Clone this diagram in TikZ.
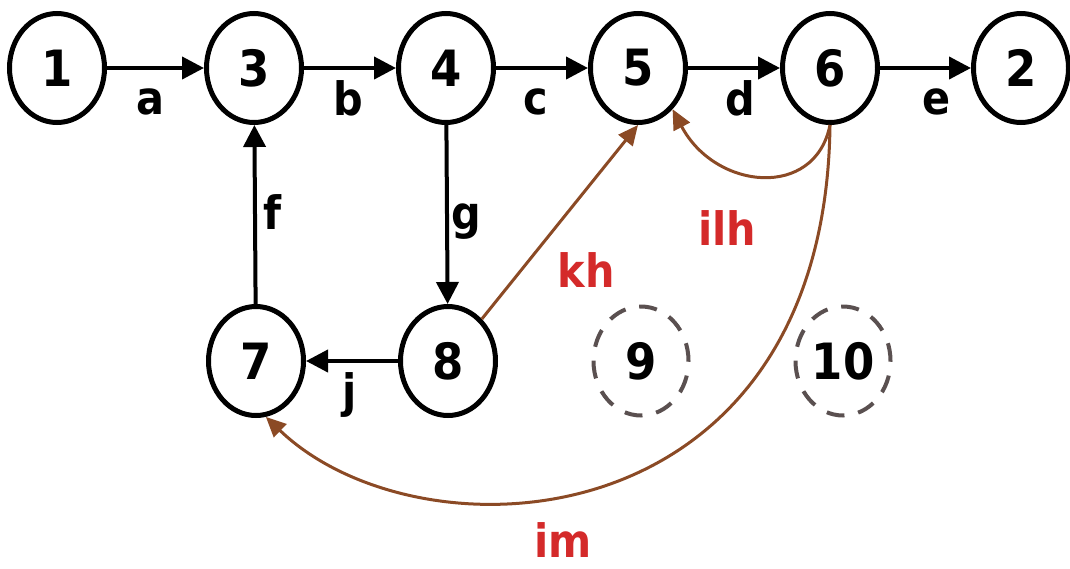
\documentclass[tikz,border=0pt]{standalone}
\usepackage{fontspec}
\newfontfamily\lbl{DejaVu Sans Condensed Bold}
\usetikzlibrary{arrows.meta,shapes.geometric}
\definecolor{brn}{HTML}{8B4A25}
\definecolor{lblred}{HTML}{D42A2A}
\definecolor{dashgray}{HTML}{5A5050}
\tikzset{
  vert/.style={ellipse, draw=black, line width=5pt, minimum width=95pt, minimum height=109pt, inner sep=0pt, font=\lbl\fontsize{50}{50}\selectfont},
  ghost/.style={ellipse, draw=dashgray, line width=4pt, dash pattern=on 18pt off 14pt, minimum width=95pt, minimum height=109pt, inner sep=0pt, font=\lbl\fontsize{50}{50}\selectfont},
  blk/.style={draw=black, line width=4pt, -{Triangle[length=22pt,width=22pt]}},
  brw/.style={draw=brn, line width=3pt, -{Triangle[length=20pt,width=18pt]}},
  elab/.style={font=\lbl\fontsize{46}{46}\selectfont, inner sep=0pt},
  rlab/.style={font=\lbl\fontsize{46}{46}\selectfont, inner sep=0pt, text=lblred},
}
\begin{document}
\begin{tikzpicture}[x=1pt,y=-1pt]
\useasboundingbox (0,0) rectangle (1070,568);
% vertices
\node[vert] (n1) at (57,68) {1};
\node[vert] (n3) at (254,68) {3};
\node[vert] (n4) at (446,68) {4};
\node[vert] (n5) at (638,68) {5};
\node[vert] (n6) at (830,68) {6};
\node[vert] (n2) at (1021,68) {2};
\node[vert] (n7) at (256,361) {7};
\node[vert] (n8) at (448,361) {8};
\node[ghost] (n9) at (641,361) {9};
\node[ghost] (n10) at (843,361) {10};
% black edges
\draw[blk] (n1) -- (n3);
\draw[blk] (n3) -- (n4);
\draw[blk] (n4) -- (n5);
\draw[blk] (n5) -- (n6);
\draw[blk] (n6) -- (n2);
\draw[blk] (n7) -- (n3);
\draw[blk] (n4) -- (n8);
\draw[blk] (n8) -- (n7);
% brown edges
\draw[brw] (n8) -- (n5.south);
\coordinate (c1) at (815,200);
\coordinate (c2) at (715,190);
\draw[brw] (n6.south) .. controls (c1) and (c2) .. (n5.-50);
\coordinate (c3) at (825,545);
\coordinate (c4) at (420,565);
\draw[brw] (n6.south) .. controls (c3) and (c4) .. (n7.-80);
% labels
\node[elab] (la) at (150,102) {a};
\node[elab] (lb) at (348,98) {b};
\node[elab] (lc) at (536,102) {c};
\node[elab] (ld) at (740,98) {d};
\node[elab] (le) at (937,102) {e};
\node[elab] (lf) at (272,212) {f};
\node[elab] (lg) at (466,222) {g};
\node[elab] (lj) at (350,395) {j};
\node[rlab] (lkh) at (586,270) {kh};
\node[rlab] (lilh) at (727,228) {ilh};
\node[rlab] (lim) at (563,540) {im};
\end{tikzpicture}
\end{document}
